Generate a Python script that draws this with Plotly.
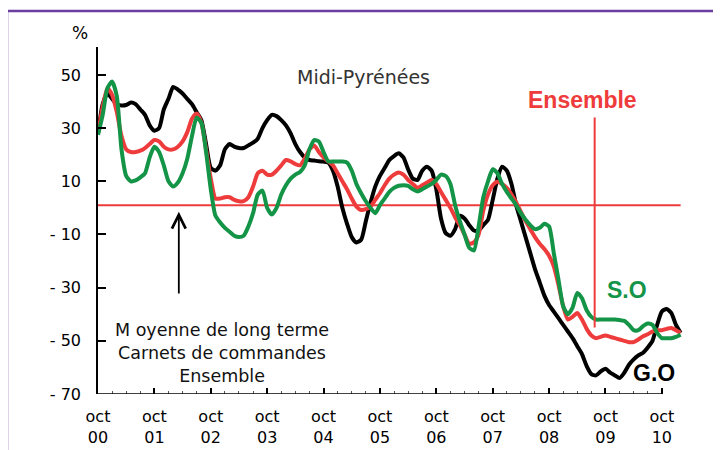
import plotly.graph_objects as go

# monthly series, oct 2000 (month 0) .. feb 2011 (month 124)
months = list(range(125))

go_vals = [28, 39, 43, 41, 39, 38.5, 38.7, 39.6, 39, 37, 35, 31, 29, 30, 37, 41, 45.5, 44.5, 43, 41,
           39, 36, 33, 24, 15, 14, 16, 22, 24, 23, 22.5, 22.5, 23.5, 24.5, 26, 30, 33, 35, 34.5, 33,
           31, 28, 24, 21, 19, 18, 17.8, 17.5, 17.4, 17, 14, 8, 0, -6, -11, -13, -12, -5, 2, 8,
           12, 15, 18, 19.5, 20.5, 19, 14.5, 11, 10.5, 14, 15.5, 14, 7, -4, -9.5, -10.5, -8, -3, -4, -6.5,
           -8.5, -8.5, -6.5, -4.5, 3, 11, 15.5, 14, 9, 1, -5, -11, -17, -23, -28, -33, -36.5, -39, -41.5, -44,
           -46.5, -49, -52, -55, -59.5, -62.5, -63, -61.5, -60.5, -62, -63, -64, -62, -59, -57, -55.5, -54.5, -52.5, -50, -44,
           -39, -38, -39.5, -44, -47]

ensemble_vals = [28, 38, 45, 42.5, 36, 27, 22, 21, 21, 21.5, 22.5, 24, 25.5, 25, 23, 22, 22, 23, 25, 28.5,
                 33.5, 35.5, 32, 22, 11, 3.5, 3.5, 4, 4, 3, 2.5, 2.5, 4, 8, 13, 14, 12.5, 12.5, 14, 16,
                 18, 17.5, 16.5, 16, 18.5, 22, 23.5, 21, 19, 17.5, 16, 13, 10, 7, 3.5, 0.5, -0.8, -0.5, 0.5, 3,
                 5.5, 8.5, 11, 12.5, 13.3, 12.5, 10.5, 9, 7.5, 8.5, 9.5, 10.5, 9, 6, 3, 0, -3.5, -6.5, -10, -13.5,
                 -13, -10, -1, 5, 8.5, 9.8, 9, 7.5, 5, 2, -1.5, -5, -8, -11, -13.5, -15.5, -18, -22, -29, -37,
                 -42, -41, -39.5, -42, -45.5, -48, -49, -48.5, -48, -48.5, -49, -49.5, -50, -50.5, -50.5, -49.5, -48.3, -47.5, -46.5, -46,
                 -46, -45.5, -45.2, -46, -47]

so_vals = [27.5, 35, 45, 47.5, 42, 22, 12, 10, 10.3, 11.5, 13, 19, 23, 21, 16, 10, 8, 9.5, 13, 18.5,
           27, 34, 32, 21, 7, -3, -5.5, -7.5, -9, -10.5, -11, -10.5, -7, -2, 5, 6.5, 0, -2.5, 0, 5,
           8.5, 11, 12.5, 13.5, 16, 22, 25.5, 25, 21, 17.5, 17.4, 17.4, 17.4, 17, 14, 9, 5.5, 2.5, 0, -2,
           1, 3.5, 6, 7.5, 8.3, 8.5, 8.3, 7, 6.2, 7, 8, 9, 10.5, 12.5, 12, 9, 1, -5, -10, -15,
           -16, -7, 4, 10, 14.5, 13, 9, 6, 3.5, 1, -2, -4.5, -6.5, -8, -7.5, -6, -7, -17, -27, -37,
           -40, -37.5, -32, -34, -38.5, -41, -42, -42, -42, -42, -42, -42.2, -42.5, -44, -46, -46, -44.5, -43.5, -44, -47,
           -49, -49, -49, -48.5, -47.7]

moyenne_lt = 1

tick_months = list(range(0, 121, 12))
tick_text = ["oct<br>%02d" % (y % 100) for y in range(2000, 2011)]
minor_months = [m for m in range(3, 120, 3) if m % 12 != 0]
y_ticks = [50, 30, 10, -10, -30, -50, -70]
y_text = ["50", "30", "10", "- 10", "- 30", "- 50", "- 70"]

RED = "#ee3b3b"
GREEN = "#139447"
FONT = "DejaVu Sans, sans-serif"
BOLD = "Liberation Sans, Arial, sans-serif"

fig = go.Figure()
fig.add_trace(go.Scatter(x=[months[0], months[-1]], y=[moyenne_lt, moyenne_lt], mode="lines",
                         line=dict(color=RED, width=2)))
for vals, col in [(go_vals, "black"), (ensemble_vals, RED), (so_vals, GREEN)]:
    fig.add_trace(go.Scatter(x=months, y=vals, mode="lines",
                             line=dict(color=col, width=4, shape="spline", smoothing=0.6)))

# second x axis only for quarterly minor ticks
fig.add_trace(go.Scatter(x=[0], y=[-70], xaxis="x2", mode="markers", marker=dict(opacity=0),
                         hoverinfo="skip"))

# page body has an 8px margin, so the figure is 713x442
fig.update_layout(
    width=713, height=442,
    margin=dict(l=90, r=38, t=39, b=56),
    paper_bgcolor="white", plot_bgcolor="white",
    showlegend=False,
    font=dict(family=FONT, size=16, color="black"),
    xaxis=dict(range=[0, 124.5], tickvals=tick_months, ticktext=tick_text,
               ticks="inside", ticklen=6, tickwidth=1.5, tickcolor="black",
               showline=False, showgrid=False, zeroline=False, ticklabelstandoff=11,
               tickfont=dict(size=16), automargin=False),
    xaxis2=dict(range=[0, 124.5], overlaying="x", side="bottom", tickvals=minor_months,
                ticks="inside", ticklen=3, tickwidth=1, tickcolor="#555",
                showticklabels=False, showline=False, showgrid=False, zeroline=False,
                automargin=False),
    yaxis=dict(range=[-70, 60.5], tickvals=y_ticks, ticktext=y_text,
               ticks="inside", ticklen=8, tickwidth=1.5, tickcolor="black",
               showline=True, linecolor="black", linewidth=1.5,
               showgrid=False, zeroline=False, ticklabelstandoff=12,
               tickfont=dict(size=16), automargin=False),
)

# x axis line up to oct 10
fig.add_shape(type="line", xref="x", yref="y", x0=0, x1=120, y0=-70, y1=-70,
              line=dict(color="black", width=1.5))
# vertical red separator
fig.add_shape(type="line", xref="x", yref="y", x0=105.7, x1=105.7, y0=34, y1=-45,
              line=dict(color=RED, width=2))
# purple frame
fig.add_shape(type="rect", xref="paper", yref="paper", x0=-0.1556, x1=1.1, y0=-0.2, y1=1.1037,
              line=dict(color="#6a3fa0", width=2.5), layer="below")

fig.add_annotation(x=17.2, y=-1.5, ax=17.2, ay=-32.8, xref="x", yref="y", axref="x", ayref="y",
                   text="", showarrow=True, arrowhead=5, arrowsize=1.5, arrowwidth=1.8,
                   arrowcolor="black")

labels = [
    (0.212, 0.118, "M oyenne de long terme<br>Carnets de commandes<br>Ensemble", FONT, 17.5, "#111"),
    (0.453, 0.9135, "Midi-Pyrénées", FONT, 19, "#333"),
    (-0.031, 1.04, "%", FONT, 17, "black"),
    (0.829, 0.847, "<b>Ensemble</b>", BOLD, 23, RED),
    (0.904, 0.2997, "<b>S.O</b>", BOLD, 23, GREEN),
    (0.95, 0.0605, "<b>G.O</b>", BOLD, 23, "black"),
]
for x, y, txt, fam, size, col in labels:
    fig.add_annotation(x=x, y=y, xref="paper", yref="paper", showarrow=False, text=txt,
                       xanchor="center", yanchor="middle", align="center",
                       font=dict(family=fam, size=size, color=col))

fig.write_html("out.html")
